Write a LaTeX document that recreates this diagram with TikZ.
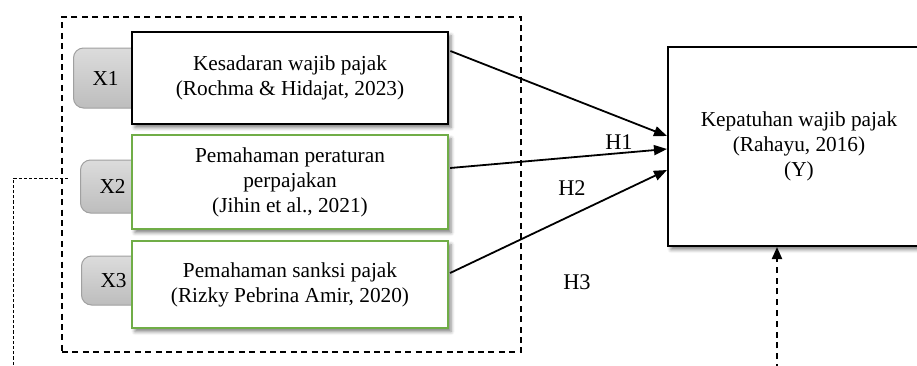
\documentclass[tikz,border=0pt]{standalone}
\usepackage{fontspec}
\setmainfont{Liberation Serif}
\usetikzlibrary{arrows.meta,shadows.blur,calc}

\definecolor{boxgreen}{HTML}{70AD47}
\definecolor{tabtop}{HTML}{DCDCDC}
\definecolor{tabbottom}{HTML}{BDBDBD}
\definecolor{tabline}{HTML}{A0A0A0}

\begin{document}
\begin{tikzpicture}[x=0.5pt,y=-0.5pt,
  font=\fontsize{10.65}{12.5}\selectfont,
  softshadow/.style={blur shadow={shadow xshift=1.5pt,shadow yshift=-1.8pt,
      shadow blur radius=1.8pt,shadow opacity=50}},
  group/.style={draw,line width=1pt,dash pattern=on 3pt off 2.2pt,
      minimum width=229.5pt,minimum height=167.5pt,inner sep=0pt},
  tab/.style={draw=tabline,line width=0.5pt,rounded corners=5pt,
      top color=tabtop,bottom color=tabbottom,anchor=west,
      text width=24.5pt,align=left,inner xsep=9.5pt,inner ysep=0pt},
  varbox/.style={draw,fill=white,align=center,minimum width=158pt,
      inner sep=0pt,softshadow},
  blackbox/.style={varbox,line width=1.4pt},
  greenbox/.style={varbox,draw=boxgreen,line width=1.1pt},
  depbox/.style={draw,fill=white,line width=1pt,align=center,
      minimum width=131pt,minimum height=99.5pt,inner sep=0pt,softshadow},
  link/.style={line width=0.9pt,-{Triangle[length=6.5pt,width=5pt]}},
  hyp/.style={font=\fontsize{11.2}{13}\selectfont,inner sep=0pt},
]
\clip (0,0) rectangle (917,365);

% dashed frame round the independent variables
\node[group] (grp) at (291.5,184.5) {};

% grey tabs with the variable codes
\node[tab,minimum height=30pt]   (t1) at (73,78)    {X1};
\node[tab,minimum height=26.5pt] (t2) at (80,186.5) {X2};
\node[tab,minimum height=24.5pt] (t3) at (81,280.5) {X3};

% independent variables
\node[blackbox,minimum height=46pt] (b1) at (290,78)
  {Kesadaran wajib pajak\\(Rochma \& Hidajat, 2023)};
\node[greenbox,minimum height=47pt] (b2) at (290,182)
  {Pemahaman peraturan\\perpajakan\\(Jihin et al., 2021)};
\node[greenbox,minimum height=43.5pt] (b3) at (290,284.5)
  {Pemahaman sanksi pajak\\(Rizky Pebrina Amir, 2020)};

% dependent variable
\node[depbox] (y) at (799,146.5)
  {Kepatuhan wajib pajak\\(Rahayu, 2016)\\(Y)};

% hypotheses
\draw[link] ($(b1.east)+(1,-27)$) -- ($(y.west)+(0,-10.5)$);
\draw[link] ($(b2.east)+(1,-14)$) -- ($(y.west)+(0,2.5)$);
\draw[link] ($(b3.east)+(1,-11.5)$) -- ($(y.west)+(0,23.5)$);

\node[hyp] (h1) at (619,142) {H1};
\node[hyp] (h2) at (572,188) {H2};
\node[hyp] (h3) at (577,282) {H3};

% dotted bracket on the left
\coordinate (l0) at (13,370);
\coordinate (l1) at (13,178);
\coordinate (l2) at (68,178);
\draw[line width=0.5pt,dash pattern=on 1.6pt off 1pt] (l0) -- (l1) -- (l2);

% dashed arrow into the dependent variable
\coordinate (yb) at (777,370);
\draw[line width=1pt,dash pattern=on 3pt off 2.4pt,
      -{Triangle[length=6pt,width=5pt]}] (yb) -- (yb |- y.south);
\end{tikzpicture}
\end{document}
